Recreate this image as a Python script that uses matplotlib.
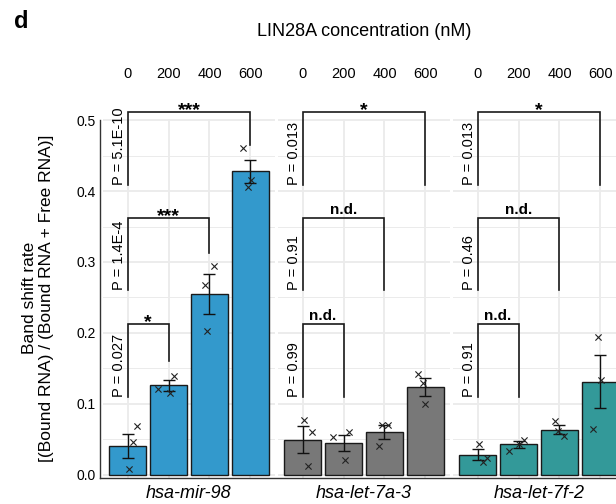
import matplotlib
matplotlib.use("Agg")
import matplotlib.pyplot as plt
from matplotlib.lines import Line2D
import numpy as np

plt.rcParams['font.family'] = ['Liberation Sans', 'DejaVu Sans']

# ---------------- data ----------------
conc_labels = ['0', '200', '400', '600']
rna_names = ['hsa-mir-98', 'hsa-let-7a-3', 'hsa-let-7f-2']
bar_colors = ['#3399CC', '#787878', '#339999']

means_mir98 = [0.041, 0.126, 0.255, 0.428]
err_mir98 = [0.017, 0.0078, 0.028, 0.0165]
points_mir98 = [[0.068, 0.0455, 0.0085], [0.1394, 0.1211, 0.1151],
                [0.2948, 0.2676, 0.2032], [0.4601, 0.4155, 0.406]]
jitter_mir98 = [[0.22, 0.13, 0.04], [0.13, -0.25, 0.04],
                [0.11, -0.11, -0.07], [-0.18, 0.02, -0.06]]

means_let7a3 = [0.0495, 0.0446, 0.060, 0.1235]
err_let7a3 = [0.019, 0.0118, 0.0096, 0.0122]
points_let7a3 = [[0.0775, 0.0606, 0.0117], [0.0535, 0.0596, 0.0211],
                 [0.0704, 0.0694, 0.0399], [0.1423, 0.1292, 0.099]]
jitter_let7a3 = [[0.04, 0.22, 0.14], [-0.25, 0.14, 0.04],
                 [-0.07, 0.09, -0.13], [-0.19, -0.07, 0.0]]

means_let7f2 = [0.0282, 0.0427, 0.0634, 0.1314]
err_let7f2 = [0.0075, 0.0047, 0.006, 0.037]
points_let7f2 = [[0.0427, 0.0235, 0.0179], [0.0493, 0.0437, 0.0334],
                 [0.0751, 0.061, 0.0545], [0.1948, 0.1338, 0.0648]]
jitter_let7f2 = [[0.04, 0.22, 0.13], [0.14, 0.02, -0.23],
                 [-0.11, -0.03, 0.11], [-0.07, 0.01, -0.19]]

# brackets: (panel, from bar, to bar, top, left leg bottom, right leg bottom, label, p-value text)
brackets = [
    (0, 0, 1, 0.212, 0.109, 0.160, '*', 'P = 0.027'),
    (0, 0, 2, 0.362, 0.260, 0.312, '***', 'P = 1.4E-4'),
    (0, 0, 3, 0.511, 0.409, 0.465, '***', 'P = 5.1E-10'),
    (1, 0, 1, 0.212, 0.109, 0.109, 'n.d.', 'P = 0.99'),
    (1, 0, 2, 0.362, 0.260, 0.260, 'n.d.', 'P = 0.91'),
    (1, 0, 3, 0.511, 0.409, 0.409, '*', 'P = 0.013'),
    (2, 0, 1, 0.212, 0.109, 0.109, 'n.d.', 'P = 0.91'),
    (2, 0, 2, 0.362, 0.260, 0.260, 'n.d.', 'P = 0.46'),
    (2, 0, 3, 0.511, 0.409, 0.409, '*', 'P = 0.013'),
]

all_means = [means_mir98, means_let7a3, means_let7f2]
all_err = [err_mir98, err_let7a3, err_let7f2]
all_points = [points_mir98, points_let7a3, points_let7f2]
all_jitter = [jitter_mir98, jitter_let7a3, jitter_let7f2]

# ---------------- layout ----------------
W, H = 616, 504
fig = plt.figure(figsize=(W / 100, H / 100), dpi=100)
fig.patch.set_facecolor('white')

panel_left = [103, 278, 453]
panel_w = 172
top_px, bot_px = 119.5, 477.5

axes = []
for p in range(3):
    ax = fig.add_axes([panel_left[p] / W, (H - bot_px) / H, panel_w / W, (bot_px - top_px) / H])
    axes.append(ax)
    x = np.arange(len(conc_labels))
    ax.set_xlim(-0.6, 3.6)
    ax.set_ylim(-0.004, 0.501)
    ax.set_yticks(np.arange(0, 0.51, 0.1))
    ax.set_yticks(np.arange(0.05, 0.5, 0.1), minor=True)
    ax.set_xticks(x)
    ax.grid(which='major', color='#EBEBEB', linewidth=1.3, zorder=0)
    ax.grid(which='minor', axis='y', color='#EBEBEB', linewidth=0.7, zorder=0)
    ax.set_axisbelow(True)
    for s in ax.spines.values():
        s.set_visible(False)

    ax.bar(x, all_means[p], width=0.9, color=bar_colors[p], edgecolor='#1a1a1a',
           linewidth=1.0, zorder=2)
    ax.errorbar(x, all_means[p], yerr=all_err[p], fmt='none', ecolor='#111111',
                elinewidth=1.0, capsize=4, capthick=1.0, zorder=3)
    for i in range(len(conc_labels)):
        ax.scatter(np.array(all_jitter[p][i]) + x[i], all_points[p][i], marker='x', s=20,
                   color='#222222', linewidths=0.8, zorder=4)

    ax.xaxis.tick_top()
    ax.set_xticklabels(conc_labels, fontsize=10.5)
    ax.tick_params(axis='x', length=0, pad=28)
    if p == 0:
        ax.set_yticklabels(['0.0', '0.1', '0.2', '0.3', '0.4', '0.5'], fontsize=10.5)
        ax.tick_params(axis='y', which='both', length=0, pad=3)
        ax.spines['left'].set_visible(True)
        ax.spines['left'].set_position(('outward', 2))
        ax.spines['left'].set_color('#333333')
        ax.spines['left'].set_linewidth(1.0)
    else:
        ax.tick_params(axis='y', which='both', length=0, labelleft=False)

    fig.text((panel_left[p] + panel_w / 2) / W, 1 - 493 / H, rna_names[p],
             fontsize=13, style='italic', ha='center', va='center')

for (p, i, j, top, lb, rb, lab, ptxt) in brackets:
    ax = axes[p]
    ax.plot([i, i, j, j], [lb, top, top, rb], color='#1a1a1a', lw=1.2,
            clip_on=False, zorder=5, solid_joinstyle='miter')
    if lab.startswith('*'):
        ax.annotate(lab, ((i + j) / 2, top), xytext=(0, -5), textcoords='offset points',
                    ha='center', va='bottom', fontsize=14, fontweight='bold',
                    annotation_clip=False)
    else:
        ax.annotate(lab, ((i + j) / 2, top), xytext=(0, 1), textcoords='offset points',
                    ha='center', va='bottom', fontsize=11, fontweight='bold',
                    annotation_clip=False)
    ax.text(i - 0.03, lb, ptxt, rotation=90, ha='right', va='bottom', fontsize=10.5,
            clip_on=False)

# continuous bottom axis line
fig.add_artist(Line2D([100 / W, 1.0], [1 - bot_px / H, 1 - bot_px / H],
                      color='#333333', lw=1.0))

fig.text(364 / W, 1 - 32 / H, 'LIN28A concentration (nM)', fontsize=13,
         ha='center', va='center')
fig.text(14 / W, 1 - 21 / H, 'd', fontsize=17, fontweight='bold', ha='left', va='center')
fig.text(38 / W, 1 - 298 / H, 'Band shift rate\n[(Bound RNA) / (Bound RNA + Free RNA)]',
         rotation=90, fontsize=12.5, ha='center', va='center', linespacing=1.2,
         multialignment='center')

fig.savefig('out.png', dpi=100)
